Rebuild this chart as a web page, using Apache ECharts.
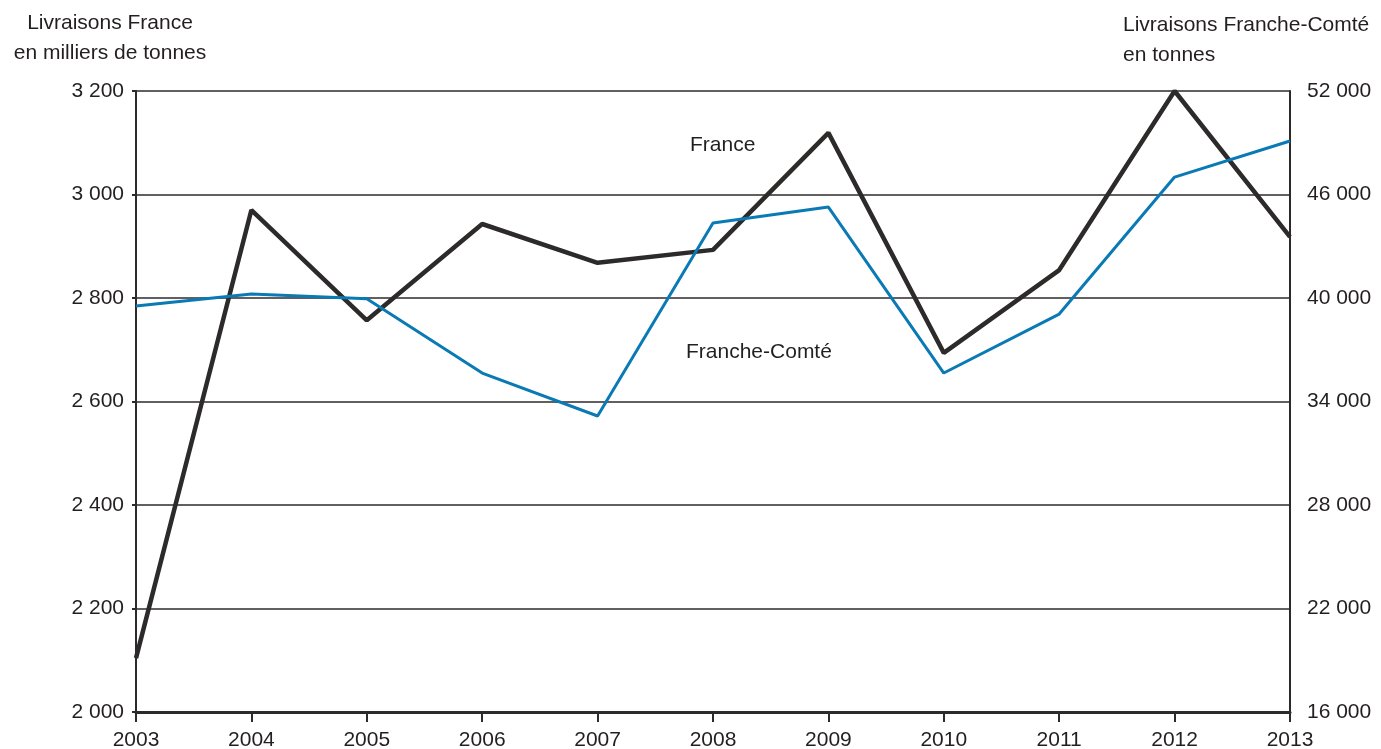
<!DOCTYPE html>
<html>
<head>
<meta charset="utf-8">
<script src="https://cdn.jsdelivr.net/npm/echarts@6/dist/echarts.min.js"></script>
<style>
  html, body { margin: 0; padding: 0; background: #fff; }
  #chart { width: 1381px; height: 749px; }
</style>
</head>
<body>
<div id="chart"></div>
<script>
// années
var years = ['2003', '2004', '2005', '2006', '2007', '2008', '2009', '2010', '2011', '2012', '2013']
// livraisons France, milliers de tonnes (axe gauche)
var franceValues = [2104, 2970, 2757, 2943, 2868, 2893, 3119, 2694, 2854, 3200, 2918]
// livraisons Franche-Comté, tonnes (axe droit)
var comteValues = [39540, 40230, 39950, 35650, 33160, 44350, 45270, 35650, 39070, 47010, 49100]

var dark = '#2d2a2a'
var blue = '#0a7ab5'
var ink = '#231f20'
var font = '"Liberation Sans", Arial, sans-serif'

function spaced (v) {
  return String(v).replace(/\B(?=(\d{3})+(?!\d))/g, ' ')
}

function label (text, x, y, align) {
  return {
    type: 'text',
    x: x,
    y: y,
    style: {
      text: text,
      fontSize: 21,
      fontFamily: font,
      fill: ink,
      align: align,
      verticalAlign: 'middle',
      lineHeight: 30
    }
  }
}

var myChart = echarts.init(document.getElementById('chart'))
var option = {
  animation: false,
  textStyle: { fontFamily: font },
  grid: { left: 136, right: 91, top: 91, bottom: 37, outerBoundsMode: 'none' },
  xAxis: {
    type: 'category',
    data: years,
    boundaryGap: false,
    axisLine: { lineStyle: { color: dark, width: 3 } },
    axisTick: { length: 10, lineStyle: { color: dark, width: 2 } },
    axisLabel: { color: ink, fontSize: 21, margin: 18 }
  },
  yAxis: [{
    type: 'value',
    min: 2000,
    max: 3200,
    interval: 200,
    axisLine: { show: true, lineStyle: { color: dark, width: 2 } },
    axisTick: { show: true, length: 4, lineStyle: { color: dark, width: 2 } },
    axisLabel: { color: ink, fontSize: 21, margin: 12, formatter: spaced },
    splitLine: { lineStyle: { color: dark, width: 1.5 } }
  }, {
    type: 'value',
    min: 16000,
    max: 52000,
    interval: 6000,
    position: 'right',
    axisLine: { show: true, lineStyle: { color: dark, width: 2 } },
    axisTick: { show: false },
    axisLabel: { color: ink, fontSize: 21, margin: 17, formatter: spaced },
    splitLine: { show: false }
  }],
  series: [{
    name: 'France',
    type: 'line',
    yAxisIndex: 0,
    data: franceValues,
    symbol: 'none',
    lineStyle: { color: dark, width: 4.5 },
    z: 3
  }, {
    name: 'Franche-Comté',
    type: 'line',
    yAxisIndex: 1,
    data: comteValues,
    symbol: 'none',
    lineStyle: { color: blue, width: 3 },
    z: 4
  }],
  graphic: [
    label('Livraisons France\nen milliers de tonnes', 110, 38, 'center'),
    label('Livraisons Franche-Comté\nen tonnes', 1123, 40, 'left'),
    label('France', 690, 145, 'left'),
    label('Franche-Comté', 686, 352, 'left')
  ]
}
myChart.setOption(option)
window.addEventListener('resize', function () {
  myChart.resize()
})
</script>
</body>
</html>
